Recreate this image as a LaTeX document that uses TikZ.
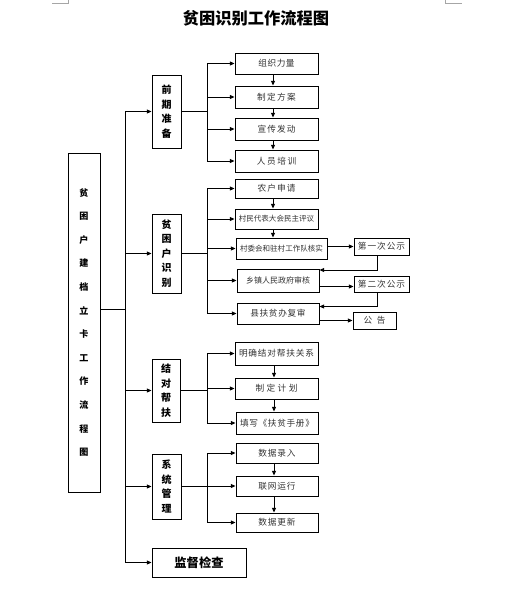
\documentclass[tikz,border=0pt]{standalone}
\usepackage{fontspec}
\setmainfont{Noto Sans CJK SC}
\usetikzlibrary{arrows.meta,calc}
\makeatletter
\newcommand\spc[2]{\@tfor\ch:=#2\do{\ch\kern#1}\unkern}
\makeatother
\begin{document}
\begin{tikzpicture}[x=0.75pt,y=-0.75pt,
 box/.style={draw, line width=0.75pt, inner sep=0pt, font=\fontsize{6.5}{8}\selectfont, text=black!80},
 small/.style={font=\fontsize{5.65}{7}\selectfont},
 cat/.style={draw, line width=0.75pt, inner sep=0pt, align=center, font=\fontsize{7.5}{10.9}\selectfont\bfseries},
 sz/.style 2 args={minimum width=#1*0.75pt, minimum height=#2*0.75pt},
 ln/.style={line width=0.75pt},
 arr/.style={line width=0.75pt, -{Triangle[length=3.5pt,width=3pt]}},
 cornermark/.style={draw=black!35, line width=0.6pt}]
\useasboundingbox (0,0) rectangle (511,600);
\draw[cornermark] (52,3) -- (68,3) -- (68,0);
\draw[cornermark] (445,0) -- (445,3) -- (462,3);
\node[font=\fontsize{12.2}{14}\selectfont\bfseries] (title) at (256,18) {贫困识别工作流程图};
% main
\node[draw, line width=0.75pt, inner sep=0pt, align=center, sz={32}{339}, font=\fontsize{6.8}{17.7}\selectfont\bfseries] (main) at (84,322.5) {贫\\困\\户\\建\\档\\立\\卡\\工\\作\\流\\程\\图};
% categories
\node[cat, sz={29}{73}] (p1) at (166.5,111.5) {前\\期\\准\\备};
\node[cat, sz={29}{79}] (p2) at (166.5,253.5) {贫\\困\\户\\识\\别};
\node[cat, sz={28}{63}] (p3) at (166,390.5) {结\\对\\帮\\扶};
\node[cat, sz={29}{65}] (p4) at (166.5,486.5) {系\\统\\管\\理};
\node[draw, line width=0.75pt, inner sep=0pt, sz={94}{29}, font=\fontsize{9.2}{11}\selectfont\bfseries] (p5) at (199,562.5) {监督检查};
% group 1
\node[box, sz={83}{21}] (a1) at (276.5,63.5) {\spc{0.4pt}{组织力量}};
\node[box, sz={83}{22}] (a2) at (276.5,97) {\spc{1pt}{制定方案}};
\node[box, sz={83}{22}] (a3) at (276.5,129) {\spc{0.8pt}{宣传发动}};
\node[box, sz={83}{22}] (a4) at (276.5,161) {\spc{1.2pt}{人员培训}};
% group 2
\node[box, sz={83}{19}] (b1) at (276.5,188.5) {\spc{0.8pt}{农户申请}};
\node[box, small, sz={83}{20}] (b2) at (276.5,219) {村民代表大会民主评议};
\node[box, small, sz={91}{21}] (b3) at (281.5,248.5) {村委会和驻村工作队核实};
\node[box, sz={82}{23}, font=\fontsize{6}{7}\selectfont] (b4) at (278,280.5) {乡镇人民政府审核};
\node[box, sz={82}{21}] (b5) at (278,313.5) {\spc{0.5pt}{县扶贫办复审}};
\node[box, sz={55}{17}] (c1) at (381.5,246.5) {\spc{0.7pt}{第一次公示}};
\node[box, sz={55}{16}] (c2) at (381.5,284) {\spc{0.7pt}{第二次公示}};
\node[box, sz={43}{17}] (c3) at (374.5,320.5) {\spc{3.5pt}{公告}};
% group 3
\node[box, sz={83}{23}] (d1) at (276.5,353.5) {\spc{0.6pt}{明确结对帮扶关系}};
\node[box, sz={83}{21}] (d2) at (276.5,388.5) {\spc{1.8pt}{制定计划}};
\node[box, sz={82}{22}] (d3) at (277,423) {\spc{0.5pt}{填写《扶贫手册》}};
% group 4
\node[box, sz={82}{20}] (e1) at (277,453) {\spc{0.6pt}{数据录入}};
\node[box, sz={82}{20}] (e2) at (277,486) {\spc{0.6pt}{联网运行}};
\node[box, sz={82}{19}] (e3) at (277,522.5) {\spc{0.6pt}{数据更新}};
% spine
\coordinate (sp) at (125,0);
\coordinate (br) at (207,0);
\coordinate (m) at ($(main.east)+(0,-13.5)$);
\draw[ln] (m) -- (m -| sp);
\draw[ln] (p1.west -| sp) -- (p5.west -| sp);
\foreach \n in {p1,p2,p3,p4,p5} \draw[arr] (\n.west -| sp) -- (\n.west);
% branches
\draw[ln] (p1.east) -- (p1.east -| br);
\draw[ln] (a1.west -| br) -- (a4.west -| br);
\foreach \n in {a1,a2,a3,a4} \draw[arr] (\n.west -| br) -- (\n.west);
\draw[ln] (p2.east) -- (p2.east -| br);
\draw[ln] (b1.west -| br) -- (b5.west -| br);
\foreach \n in {b1,b2,b3,b4,b5} \draw[arr] (\n.west -| br) -- (\n.west);
\draw[ln] (p3.east) -- (p3.east -| br);
\draw[ln] (d1.west -| br) -- (d3.west -| br);
\foreach \n in {d1,d2,d3} \draw[arr] (\n.west -| br) -- (\n.west);
\draw[ln] (p4.east) -- (p4.east -| br);
\draw[ln] (e1.west -| br) -- (e3.west -| br);
\foreach \n in {e1,e2,e3} \draw[arr] (\n.west -| br) -- (\n.west);
% vertical arrows
\coordinate (v1) at (273,0);
\coordinate (v2) at (274,0);
\draw[arr] (a1.south -| v1) -- (a2.north -| v1);
\draw[arr] (a2.south -| v1) -- (a3.north -| v1);
\draw[arr] (a3.south -| v1) -- (a4.north -| v1);
\draw[arr] (b1.south -| v1) -- (b2.north -| v1);
\draw[arr] (b2.south -| v1) -- (b3.north -| v1);
\draw[arr] (d1.south -| v2) -- (d2.north -| v2);
\draw[arr] (d2.south -| v2) -- (d3.north -| v2);
\draw[arr] (e1.south -| v2) -- (e2.north -| v2);
\draw[arr] (e2.south -| v2) -- (e3.north -| v2);
% publicity loops
\coordinate (v3) at (377,0);
\draw[arr] (c1.west -| b3.east) -- (c1.west);
\draw[arr] (c1.south -| v3) |- ($(b4.north east)+(0,1.5)$);
\draw[arr] ($(b4.east)+(0,6)$) coordinate (t2) -- (t2 -| c2.west);
\draw[arr] (c2.south -| v3) |- ($(b5.north east)+(0,4)$);
\draw[arr] (c3.west -| b5.east) -- (c3.west);
\end{tikzpicture}
\end{document}
